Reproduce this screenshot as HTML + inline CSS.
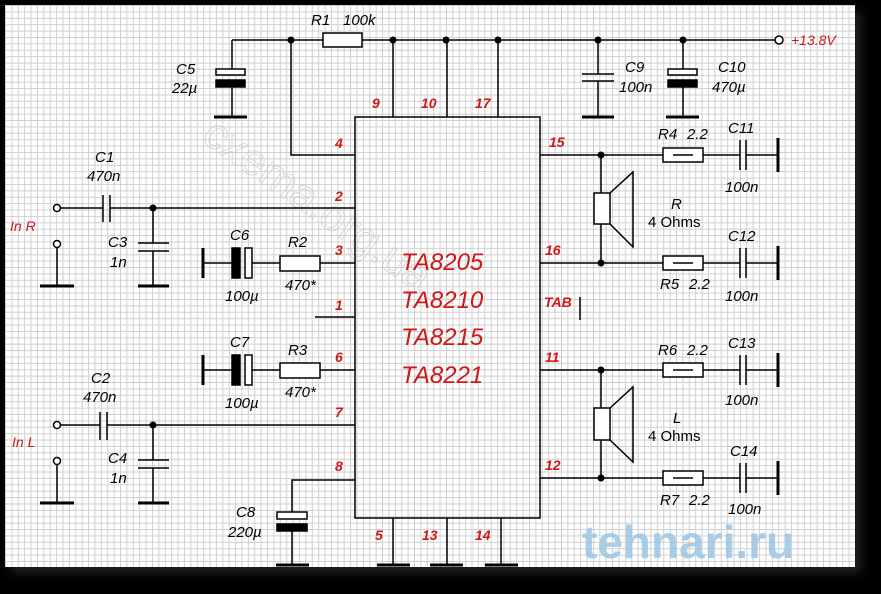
<!DOCTYPE html>
<html><head><meta charset="utf-8"><style>
html,body{margin:0;padding:0;background:#000;}
#wrap{position:relative;width:881px;height:594px;background:#000;overflow:hidden;}
#paper{position:absolute;left:5px;top:5px;width:850px;height:562px;background-color:#fff;
background-image:linear-gradient(to right,#cfcfcf 1px,transparent 1px),linear-gradient(to bottom,#cfcfcf 1px,transparent 1px);
background-size:6.4px 6.4px;box-shadow:6px 6px 10px #222;}
svg{position:absolute;left:0;top:0;}
text{font-family:"Liberation Sans",sans-serif;font-style:italic;}
.b{font-size:15px;fill:#000;}
.r{font-size:14px;fill:#d01818;font-weight:bold;}
.big{font-size:24px;fill:#d01818;}
</style></head><body><div id="wrap"><div id="paper"></div>
<svg width="881" height="594" viewBox="0 0 881 594">
<text x="200" y="140" transform="rotate(35 200 140)" font-size="44" fill="none" stroke="#c8c8c8" stroke-width="0.8" style="font-style:normal" opacity="0.8">cxema.org.ua</text>
<text x="582" y="558" font-size="46" font-weight="bold" fill="#9cc6e4" style="font-style:normal" opacity="0.85">tehnari.ru</text>
<g stroke="#000" stroke-width="1.5" fill="none">
<path d="M232 40H323M362 40H775"/>
<rect x="323" y="33" width="39" height="14" fill="#fff"/>
<circle cx="779" cy="40" r="4" fill="#fff"/>
<path d="M232 40V69M232 87V117"/>
<rect x="216" y="69" width="29" height="6" fill="#fff"/>
<rect x="216" y="80" width="29" height="7" fill="#000"/>
<path d="M214 117H247" stroke-width="3"/>
<path d="M291 40V155H355"/>
<rect x="355" y="117" width="185" height="401" fill="none"/>
<path d="M393 40V117M447 40V117M498 40V117"/>
<path d="M393 518V565M447 518V565M501 518V565"/>
<path d="M377 565H410M430 565H463M485 565H518" stroke-width="3"/>
<path d="M598 40V74M598 81V117M582 74H614M582 81H614"/>
<path d="M582 117H614" stroke-width="3"/>
<path d="M683 40V69M683 87V117"/>
<rect x="668" y="69" width="29" height="6" fill="#fff"/>
<rect x="668" y="80" width="29" height="7" fill="#000"/>
<path d="M666 117H699" stroke-width="3"/>
<circle cx="57" cy="208" r="3.5" fill="#fff"/><circle cx="57" cy="244" r="3.5" fill="#fff"/>
<path d="M61 208H103M110 208H355M103 195V222M110 195V222"/>
<path d="M57 248V286"/><path d="M40 286H74" stroke-width="3"/>
<path d="M153 208V243M153 251V286M138 243H169M138 251H169"/><path d="M138 286H169" stroke-width="3"/>
<path d="M203 263H232M252 263H280M320 263H355"/>
<path d="M203 248V278" stroke-width="3"/>
<rect x="232" y="248" width="8" height="30" fill="#000"/>
<rect x="245" y="248" width="7" height="30" fill="#fff"/>
<rect x="280" y="256" width="40" height="15" fill="#fff"/>
<path d="M315 317H355"/>
<path d="M203 370H232M252 370H280M320 370H355"/>
<path d="M203 355V385" stroke-width="3"/>
<rect x="232" y="355" width="8" height="30" fill="#000"/>
<rect x="245" y="355" width="7" height="30" fill="#fff"/>
<rect x="280" y="363" width="40" height="15" fill="#fff"/>
<circle cx="57" cy="425" r="3.5" fill="#fff"/><circle cx="57" cy="461" r="3.5" fill="#fff"/>
<path d="M61 425H100M107 425H355M100 412V440M107 412V440"/>
<path d="M57 465V503"/><path d="M40 503H74" stroke-width="3"/>
<path d="M153 425V460M153 468V503M138 460H169M138 468H169"/><path d="M138 503H169" stroke-width="3"/>
<path d="M355 480H292V512M292 531V565"/>
<rect x="277" y="512" width="30" height="7" fill="#fff"/>
<rect x="277" y="524" width="30" height="7" fill="#000"/>
<path d="M276 565H309" stroke-width="3"/>
<path d="M580 297V320"/>
<path d="M540 155H663M703 155H740M746 155H778M740 140V170M746 140V170"/>
<rect x="663" y="148" width="40" height="14" fill="#fff"/><path d="M673 155H693"/>
<path d="M778 138V172" stroke-width="3"/>
<path d="M540 263H663M703 263H740M746 263H778M740 248V278M746 248V278"/>
<rect x="663" y="256" width="40" height="14" fill="#fff"/><path d="M673 263H693"/>
<path d="M778 246V280" stroke-width="3"/>
<path d="M601 155V193M601 224V263"/>
<rect x="594" y="193" width="16" height="31" fill="#fff"/>
<path d="M610 193L633 172V247L610 224"/>
<path d="M540 370H663M703 370H740M746 370H778M740 355V385M746 355V385"/>
<rect x="663" y="363" width="40" height="14" fill="#fff"/><path d="M673 370H693"/>
<path d="M778 353V387" stroke-width="3"/>
<path d="M540 478H663M703 478H740M746 478H778M740 463V493M746 463V493"/>
<rect x="663" y="471" width="40" height="14" fill="#fff"/><path d="M673 478H693"/>
<path d="M778 461V495" stroke-width="3"/>
<path d="M601 370V408M601 440V478"/>
<rect x="594" y="408" width="16" height="32" fill="#fff"/>
<path d="M610 408L633 387V462L610 440"/>
</g>
<g fill="#000">
<circle cx="291" cy="40" r="3.5"/><circle cx="393" cy="40" r="3.5"/><circle cx="446" cy="40" r="3.5"/><circle cx="498" cy="40" r="3.5"/><circle cx="598" cy="40" r="3.5"/><circle cx="683" cy="40" r="3.5"/>
<circle cx="153" cy="208" r="3.5"/><circle cx="153" cy="425" r="3.5"/>
<circle cx="601" cy="155" r="3.5"/><circle cx="601" cy="263" r="3.5"/><circle cx="601" cy="370" r="3.5"/><circle cx="601" cy="478" r="3.5"/>
</g>
<text class="b" x="311" y="25">R1</text>
<text class="b" x="343" y="25" font-size="13">100k</text>
<text class="b" x="176" y="74">C5</text><text class="b" x="172" y="93">22µ</text>
<text class="b" x="95" y="162">C1</text><text class="b" x="87" y="181">470n</text>
<text class="b" x="108" y="247">C3</text><text class="b" x="110" y="267">1n</text>
<text class="b" x="230" y="240">C6</text><text class="b" x="225" y="301">100µ</text>
<text class="b" x="288" y="247">R2</text><text class="b" x="285" y="290" font-size="13">470*</text>
<text class="b" x="230" y="347">C7</text><text class="b" x="225" y="408">100µ</text>
<text class="b" x="288" y="355">R3</text><text class="b" x="285" y="397" font-size="13">470*</text>
<text class="b" x="91" y="383">C2</text><text class="b" x="83" y="402">470n</text>
<text class="b" x="108" y="463">C4</text><text class="b" x="110" y="483">1n</text>
<text class="b" x="236" y="517">C8</text><text class="b" x="228" y="537">220µ</text>
<text class="b" x="625" y="72">C9</text><text class="b" x="619" y="92">100n</text>
<text class="b" x="718" y="72">C10</text><text class="b" x="712" y="92">470µ</text>
<text class="b" x="658" y="139">R4</text><text class="b" x="687" y="139" font-size="14">2.2</text>
<text class="b" x="728" y="133">C11</text><text class="b" x="725" y="192">100n</text>
<text class="b" x="671" y="209">R</text><text class="b" x="648" y="227" style="font-style:normal">4 Ohms</text>
<text class="b" x="728" y="241">C12</text><text class="b" x="725" y="301">100n</text>
<text class="b" x="660" y="289">R5</text><text class="b" x="689" y="289" font-size="14">2.2</text>
<text class="b" x="658" y="355">R6</text><text class="b" x="687" y="355" font-size="14">2.2</text>
<text class="b" x="728" y="348">C13</text><text class="b" x="725" y="405">100n</text>
<text class="b" x="673" y="423">L</text><text class="b" x="648" y="441" style="font-style:normal">4 Ohms</text>
<text class="b" x="730" y="456">C14</text><text class="b" x="728" y="514">100n</text>
<text class="b" x="660" y="505">R7</text><text class="b" x="689" y="505" font-size="14">2.2</text>
<text class="r" x="372" y="108">9</text><text class="r" x="421" y="108">10</text><text class="r" x="475" y="108">17</text>
<text class="r" x="335" y="148">4</text><text class="r" x="335" y="201">2</text><text class="r" x="335" y="255">3</text>
<text class="r" x="335" y="310">1</text><text class="r" x="335" y="362">6</text><text class="r" x="335" y="417">7</text><text class="r" x="335" y="471">8</text>
<text class="r" x="375" y="540">5</text><text class="r" x="422" y="540">13</text><text class="r" x="475" y="540">14</text>
<text class="r" x="549" y="147">15</text><text class="r" x="545" y="255">16</text><text class="r" x="544" y="307" font-size="13">TAB</text>
<text class="r" x="545" y="362">11</text><text class="r" x="545" y="470">12</text>
<text class="r" x="10" y="231" style="font-weight:normal">In R</text><text class="r" x="12" y="447" style="font-weight:normal">In L</text>
<text class="r" x="791" y="45" style="font-weight:normal">+13.8V</text>
<text class="big" x="401" y="270">TA8205</text>
<text class="big" x="401" y="308">TA8210</text>
<text class="big" x="401" y="345">TA8215</text>
<text class="big" x="401" y="383">TA8221</text>
</svg></div></body></html>
